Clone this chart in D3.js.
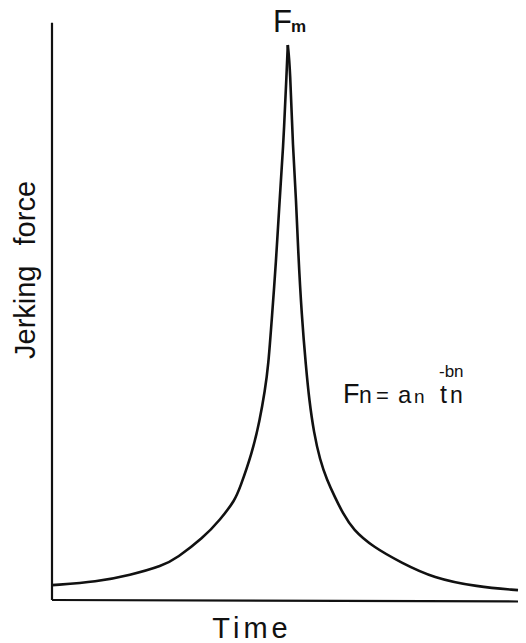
<!DOCTYPE html>
<html>
<head>
<meta charset="utf-8">
<script src="https://cdn.jsdelivr.net/npm/d3@7"></script>
<style>
  body { margin: 0; background: #fff; }
  text { font-family: "Liberation Sans", Arial, sans-serif; fill: #111; }
</style>
</head>
<body>
<div id="chart"></div>
<script>
// values (time and force in arbitrary units, peak = 100)
var riseTime  = [0, 9.7, 16.7, 23.8, 26.8, 32.4, 36.1, 39.3, 40.3, 42.9, 44.6, 45.7, 46.4, 47.2, 48.1, 48.7, 49.6, 50.4, 50.6];
var riseForce = [2.5, 3.1, 4.3, 6.0, 7.4, 11.0, 14.3, 17.9, 20.0, 26.2, 32.3, 37.7, 41.9, 50.9, 61.2, 70.2, 81.0, 96.0, 100];
var decayTime  = [50.6, 51.1, 51.7, 52.4, 52.8, 53.6, 54.5, 55.2, 56.2, 57.5, 59.0, 60.7, 62.4, 64.6, 68.9, 75.1, 81.8, 91.2, 100];
var decayForce = [100, 96.0, 81.0, 72.0, 63.0, 50.9, 41.9, 35.9, 30.0, 25.1, 21.5, 18.4, 15.5, 12.5, 9.4, 6.5, 3.8, 2.2, 1.6];

var svgWidth = 526;
var svgHeight = 643;

var svg = d3.select("#chart")
  .append("svg")
    .attr("width", svgWidth)
    .attr("height", svgHeight);

var xScale = d3.scaleLinear()
  .domain([0, 100])
  .range([52, 518]);

var yScale = d3.scaleLinear()
  .domain([0, 100])
  .range([599, 45]);

// axes (plain lines, no ticks)
svg.append("line")
  .attr("x1", xScale(0)).attr("x2", xScale(0))
  .attr("y1", yScale(0) + 1).attr("y2", yScale(104))
  .attr("stroke", "#111")
  .attr("stroke-width", 2.2);

svg.append("line")
  .attr("x1", xScale(0)).attr("x2", xScale(100))
  .attr("y1", yScale(0) + 1).attr("y2", yScale(0) + 2.5)
  .attr("stroke", "#111")
  .attr("stroke-width", 2.2);

var line = d3.line()
  .x(d => xScale(d[0]))
  .y(d => yScale(d[1]))
  .curve(d3.curveBasis);

var rise = d3.zip(riseTime, riseForce);
var decay = d3.zip(decayTime, decayForce);

[rise, decay].forEach(function(pts) {
  svg.append("path")
    .datum(pts)
    .attr("d", line)
    .attr("fill", "none")
    .attr("stroke", "#111")
    .attr("stroke-width", 2.6)
    .attr("stroke-linejoin", "miter");
});

// peak label
var fm = svg.append("text")
  .attr("y", 32);
fm.append("tspan").attr("x", 273).attr("font-size", "31px").text("F");
fm.append("tspan").attr("x", 291).attr("font-size", "17px").attr("font-weight", "bold").text("m");

// axis titles
svg.append("text")
  .attr("x", 252)
  .attr("y", 638)
  .attr("text-anchor", "middle")
  .attr("font-size", "29px")
  .attr("letter-spacing", "4px")
  .text("Time");

svg.append("text")
  .attr("transform", "translate(35, 270) rotate(-90)")
  .attr("text-anchor", "middle")
  .attr("font-size", "29px")
  .attr("word-spacing", "12px")
  .text("Jerking force");

// formula
var f = svg.append("text")
  .attr("y", 403);
f.append("tspan").attr("x", 343).attr("font-size", "27px").text("F");
f.append("tspan").attr("x", 359).attr("font-size", "23px").text("n");
f.append("tspan").attr("x", 376).attr("font-size", "22px").text("=");
f.append("tspan").attr("x", 398).attr("font-size", "24px").text("a");
f.append("tspan").attr("x", 414).attr("font-size", "19px").text("n");
f.append("tspan").attr("x", 440).attr("font-size", "25px").text("t");
f.append("tspan").attr("x", 450).attr("font-size", "23px").text("n");
f.append("tspan").attr("x", 439).attr("y", 377).attr("font-size", "17px").text("-bn");
</script>
</body>
</html>
